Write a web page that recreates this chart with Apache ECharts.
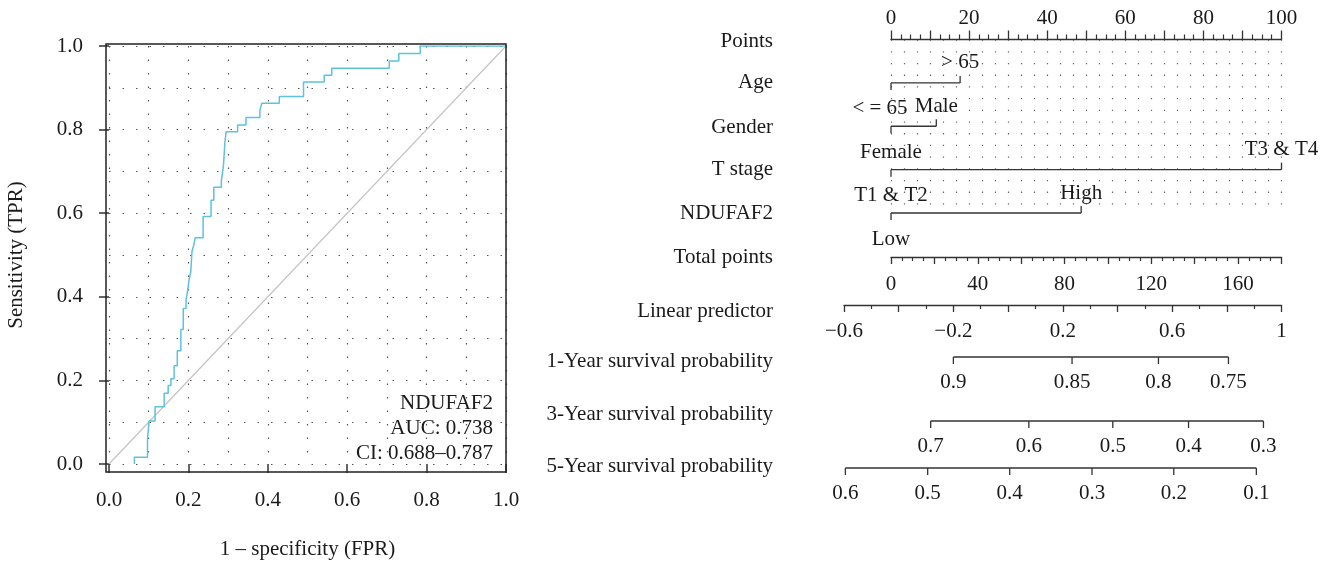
<!DOCTYPE html>
<html><head><meta charset="utf-8">
<script src="https://cdn.jsdelivr.net/npm/echarts@6/dist/echarts.min.js"></script>
<style>html,body{margin:0;padding:0;background:#fff}#c{width:1334px;height:565px}</style>
</head><body><div id="c"></div>
<script>
// ---------- ROC data (staircase vertices: fpr at vertical step, tpr at top of step) ----------
const rocFpr = [0.064,0.064,0.097,0.101,0.116,0.139,0.149,0.156,0.164,0.172,0.181,0.187,0.194,0.197,0.202,0.206,0.209,0.214,0.217,0.237,0.257,0.264,0.283,0.288,0.290,0.292,0.295,0.324,0.345,0.380,0.385,0.429,0.490,0.542,0.561,0.706,0.730,0.784,1.000];
const rocTpr = [0.000,0.016,0.060,0.103,0.137,0.169,0.188,0.204,0.235,0.271,0.322,0.372,0.392,0.408,0.443,0.460,0.509,0.525,0.541,0.592,0.631,0.662,0.678,0.710,0.740,0.770,0.795,0.811,0.829,0.846,0.863,0.879,0.914,0.930,0.947,0.964,0.982,1.000,1.000];
const rocXName = '1 \u2013 specificity (FPR)';
const rocYName = 'Sensitivity (TPR)';
const rocNotes = ['NDUFAF2', 'AUC: 0.738', 'CI: 0.688\u20130.787'];

// ---------- Nomogram data ----------
const rowLabels = ['Points','Age','Gender','T stage','NDUFAF2','Total points','Linear predictor',
  '1-Year survival probability','3-Year survival probability','5-Year survival probability'];
const varLevels = [['< = 65','> 65'],['Female','Male'],['T1 & T2','T3 & T4'],['Low','High']];
const varPoints = [[0,17.7],[0,11.6],[0,100],[0,48.7]];
const pointsRange = [0,100];
const totalRange = [0,180];
const lpRange = [-0.6,1];
const surv1Labels = ['0.9','0.85','0.8','0.75'];
const surv1Lp = [-0.200,0.234,0.550,0.806];
const surv3Labels = ['0.7','0.6','0.5','0.4','0.3'];
const surv3Lp = [-0.283,0.076,0.383,0.660,0.934];
const surv5Labels = ['0.6','0.5','0.4','0.3','0.2','0.1'];
const surv5Lp = [-0.595,-0.294,0.006,0.307,0.606,0.908];

const FONT = '"Liberation Serif", "DejaVu Serif", serif';
const FS = 21;
const TXT = '#1a1a1a';
const AX = '#333';
const font = (s) => s + 'px ' + FONT;
function txt(text, x, y, align, size) {
  return {type:'text', style:{text:text, x:x, y:y, align:align||'center', verticalAlign:'middle',
    textAlign:align||'center', textVerticalAlign:'middle', font:font(size||FS), fill:TXT}};
}
const dotted = {type:[1.5,12], color:'#555', width:1.2};
const nomoDots = {type:[1.3,10.4], color:'#666', width:1.2};

// ROC grid geometry
const R = {l:109, r:506, t:46, b:472};
// nomogram geometry
const N = {l:891, r:1281.5, lpL:844};
const rowY = [41,82,127,169,213,257,311,361,414,466];
const survLineY = [357, 421, 468];

function renderVar(params, api) {
  const i = params.dataIndex;
  const pts = varPoints[i], lv = varLevels[i];
  const row = i + 1;
  const y = api.coord([0,row])[1];
  const xs = pts.map(p => api.coord([p,row])[0]);
  const ch = [{type:'line', shape:{x1:Math.min(...xs), y1:y, x2:Math.max(...xs), y2:y}, style:{stroke:AX, lineWidth:1.3}}];
  xs.forEach((x,j) => {
    const up = j % 2 === 1;
    ch.push({type:'line', shape:{x1:x, y1:y, x2:x, y2: up ? y-7 : y+7}, style:{stroke:AX, lineWidth:1.3}});
    const dx = (i === 0 && j === 0) ? -11 : 0;
    ch.push(txt(lv[j], x+dx, up ? y-20 : y+26));
  });
  return {type:'group', children:ch};
}
function survSeries(k, lps, labels) {
  return {type:'custom', xAxisIndex:4+k, yAxisIndex:4+k, clip:false, silent:true,
    data:[[lps[0],0]],
    renderItem:function(params, api){
      const y = api.coord([0,0])[1];
      const xs = lps.map(v => api.coord([v,0])[0]);
      const ch = [{type:'line', shape:{x1:xs[0], y1:y, x2:xs[xs.length-1], y2:y}, style:{stroke:AX, lineWidth:1.3}}];
      xs.forEach((x,j) => {
        ch.push({type:'line', shape:{x1:x, y1:y, x2:x, y2:y+7}, style:{stroke:AX, lineWidth:1.3}});
        ch.push(txt(labels[j], x, y+25.5));
      });
      return {type:'group', children:ch};
    }};
}

const axLine = {show:true, lineStyle:{color:AX, width:1.3}};
const labelStyle = {color:TXT, fontSize:FS, fontFamily:FONT};

const option = {
  animation:false,
  textStyle:{fontFamily:FONT, color:TXT},
  grid:[
    {left:R.l, width:R.r-R.l, top:R.t, height:R.b-R.t},
    {left:N.l, width:N.r-N.l, top:39.5, height:173.5},
    {left:N.l, width:N.r-N.l, top:247, height:10},
    {left:N.lpL, width:N.r-N.lpL, top:295, height:10},
    {left:N.lpL, width:N.r-N.lpL, top:survLineY[0]-10, height:10},
    {left:N.lpL, width:N.r-N.lpL, top:survLineY[1]-10, height:10},
    {left:N.lpL, width:N.r-N.lpL, top:survLineY[2]-10, height:10}
  ],
  xAxis:[
    {gridIndex:0, type:'value', min:0, max:1, interval:0.2,
      name:rocXName, nameLocation:'middle', nameGap:75, nameTextStyle:labelStyle,
      axisLine:{show:false}, axisTick:{show:true, length:9, lineStyle:{color:AX, width:1.5}},
      axisLabel:{...labelStyle, margin:26, formatter:v => v.toFixed(1)},
      splitLine:{show:true, lineStyle:dotted},
      minorTick:{show:false, splitNumber:2}, minorSplitLine:{show:true, lineStyle:dotted}},
    {gridIndex:1, type:'value', min:pointsRange[0], max:pointsRange[1], interval:10, position:'top',
      axisLine:axLine, axisTick:{show:true, length:9, lineStyle:{color:AX, width:1.3}},
      minorTick:{show:true, splitNumber:4, length:5, lineStyle:{color:AX, width:1.2}},
      axisLabel:{...labelStyle, margin:11, formatter:v => (Math.round(v) % 20 === 0 ? String(Math.round(v)) : '')},
      splitLine:{show:false}},
    {gridIndex:2, type:'value', min:totalRange[0], max:totalRange[1], interval:20, position:'bottom',
      axisLine:axLine, axisTick:{show:true, length:7, lineStyle:{color:AX, width:1.3}},
      minorTick:{show:true, splitNumber:4, length:4, lineStyle:{color:AX, width:1.2}},
      axisLabel:{...labelStyle, margin:17, formatter:v => (Math.round(v) % 40 === 0 ? String(Math.round(v)) : '')},
      splitLine:{show:false}},
    {gridIndex:3, type:'value', min:lpRange[0], max:lpRange[1], interval:0.2, position:'bottom',
      axisLine:axLine, axisTick:{show:true, length:7, lineStyle:{color:AX, width:1.3}},
      minorTick:{show:true, splitNumber:2, length:4, lineStyle:{color:AX, width:1.2}},
      axisLabel:{...labelStyle, margin:16, formatter:v => {
        const k = Math.round((v - lpRange[0]) * 10);
        if (k % 4 !== 0) return '';
        return String(Number(v.toFixed(1))).replace('-', '\u2212');
      }},
      splitLine:{show:false}},
    {gridIndex:4, type:'value', min:lpRange[0], max:lpRange[1], show:false},
    {gridIndex:5, type:'value', min:lpRange[0], max:lpRange[1], show:false},
    {gridIndex:6, type:'value', min:lpRange[0], max:lpRange[1], show:false},
    // reference-line lattice of the nomogram (30 divisions of the points scale)
    {gridIndex:1, type:'value', min:0, max:30, interval:1, position:'bottom',
      axisLine:{show:false}, axisTick:{show:false}, axisLabel:{show:false},
      splitLine:{show:true, lineStyle:nomoDots}}
  ],
  yAxis:[
    {gridIndex:0, type:'value', min:0, max:1, interval:0.2, offset:3,
      name:rocYName, nameLocation:'middle', nameGap:79, nameRotate:90, nameTextStyle:labelStyle,
      axisLine:{show:false}, axisTick:{show:true, length:10, lineStyle:{color:AX, width:1.5}},
      axisLabel:{...labelStyle, margin:23, formatter:v => v.toFixed(1)},
      splitLine:{show:true, lineStyle:dotted},
      minorTick:{show:false, splitNumber:2}, minorSplitLine:{show:true, lineStyle:dotted}},
    {gridIndex:1, type:'value', min:0, max:4, inverse:true, show:false},
    {gridIndex:2, type:'value', min:0, max:1, show:false},
    {gridIndex:3, type:'value', min:0, max:1, show:false},
    {gridIndex:4, type:'value', min:0, max:1, show:false},
    {gridIndex:5, type:'value', min:0, max:1, show:false},
    {gridIndex:6, type:'value', min:0, max:1, show:false}
  ],
  series:[
    {type:'line', xAxisIndex:0, yAxisIndex:0, data:[[0,0],[1,1]], symbol:'none', silent:true,
      lineStyle:{color:'#c4c4c4', width:1.2}},
    {type:'line', xAxisIndex:0, yAxisIndex:0, step:'end', symbol:'none', silent:true,
      data:rocFpr.map((x,i) => [x, rocTpr[i]]), lineStyle:{color:'#5cc2de', width:1.5}},
    {type:'custom', xAxisIndex:1, yAxisIndex:1, clip:false, silent:true,
      data:varPoints.map((p,i) => [0, i+1]), renderItem:renderVar},
    survSeries(0, surv1Lp, surv1Labels),
    survSeries(1, surv3Lp, surv3Labels),
    survSeries(2, surv5Lp, surv5Labels)
  ],
  graphic:[
    {type:'rect', z:100, silent:true, shape:{x:106, y:44, width:400, height:428},
      style:{fill:'none', stroke:'#222', lineWidth:1.5}},
    {type:'group', silent:true, children:[
      txt(rocNotes[0], 493, 403, 'right'),
      txt(rocNotes[1], 493, 428, 'right'),
      txt(rocNotes[2], 493, 453, 'right')
    ]},
    {type:'group', silent:true, children: rowLabels.map((t,i) => txt(t, 773, rowY[i], 'right'))}
  ]
};
const chart = echarts.init(document.getElementById('c'), null, {renderer:'canvas'});
chart.setOption(option);
</script></body></html>
